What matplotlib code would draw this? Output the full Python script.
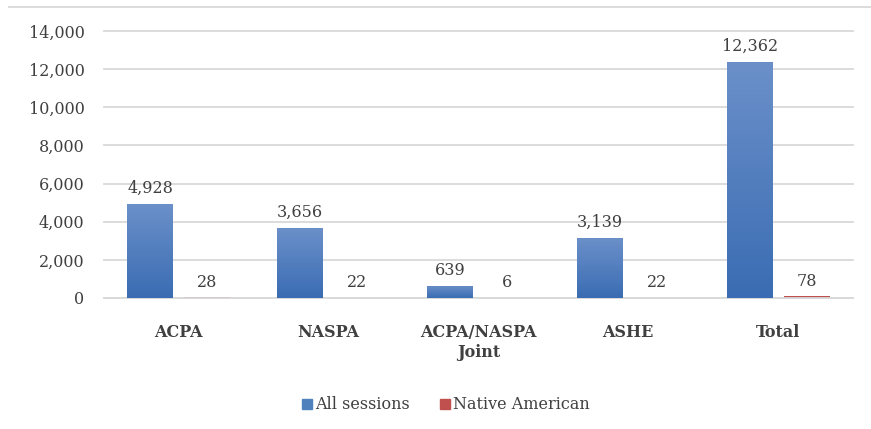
import numpy as np
import matplotlib
matplotlib.use("Agg")
import matplotlib.pyplot as plt
from matplotlib.lines import Line2D
from matplotlib.colors import LinearSegmentedColormap
from matplotlib.ticker import FuncFormatter

# Datos
categorias = ["ACPA", "NASPA", "ACPA/NASPA\nJoint", "ASHE", "Total"]
todas = [4928, 3656, 639, 3139, 12362]
nativos = [28, 22, 6, 22, 78]

color_txt = "#404040"
azul_arriba = "#6b90c9"
azul_abajo = "#3a6cb3"
rojo = "#c0504d"

plt.rcParams["font.family"] = ["DejaVu Serif"]
plt.rcParams["font.size"] = 11.5

fig = plt.figure(figsize=(8.71, 4.29), dpi=100)
ax = fig.add_axes([0.1194, 0.3054, 0.8599, 0.6224])

x = np.arange(len(categorias))
ancho = 0.307
desp = 0.19

barras_a = ax.bar(x - desp, todas, ancho, color=azul_abajo, label="All sessions", zorder=2)
barras_n = ax.bar(x + desp, nativos, ancho, color=rojo, label="Native American", zorder=2)

# degradado vertical en las barras azules
cmap = LinearSegmentedColormap.from_list("grad", [azul_abajo, azul_arriba])
grad = np.linspace(0, 1, 256).reshape(-1, 1)
for b in barras_a:
    bx, by = b.get_x(), b.get_y()
    w, h = b.get_width(), b.get_height()
    im = ax.imshow(grad, extent=[bx, bx + w, by, by + h], origin="lower",
                   cmap=cmap, aspect="auto", zorder=3)
    im.set_clip_path(b)

for b, v in zip(barras_a, todas):
    ax.annotate(f"{v:,}", (b.get_x() + b.get_width() / 2, v), xytext=(0, 5),
                textcoords="offset points", ha="center", va="bottom", color=color_txt)
for b, v in zip(barras_n, nativos):
    ax.annotate(f"{v:,}", (b.get_x() + b.get_width() / 2, v), xytext=(0, 5),
                textcoords="offset points", ha="center", va="bottom", color=color_txt)

ax.set_xlim(-0.5, len(categorias) - 0.5)
ax.set_ylim(0, 14000)
ax.set_yticks(range(0, 14001, 2000))
ax.yaxis.set_major_formatter(FuncFormatter(lambda v, p: f"{int(v):,}"))
ax.set_xticks(x)
ax.set_xticklabels(categorias, fontweight="bold", color=color_txt, linespacing=1.2)
ax.tick_params(axis="x", length=0, pad=19)
ax.tick_params(axis="y", length=0, pad=14, labelcolor=color_txt)

ax.grid(axis="y", color="#d9d9d9", linewidth=1.3, zorder=0)
ax.set_axisbelow(True)
for linea in ax.get_ygridlines():
    linea.set_clip_on(False)
for s in ["top", "right", "left"]:
    ax.spines[s].set_visible(False)
ax.spines["bottom"].set_color("#d9d9d9")
ax.spines["bottom"].set_linewidth(1.3)

handles = [
    Line2D([], [], marker="s", linestyle="none", markersize=7,
           markerfacecolor="#4f81bd", markeredgecolor="#4f81bd"),
    Line2D([], [], marker="s", linestyle="none", markersize=7,
           markerfacecolor=rojo, markeredgecolor=rojo),
]
fig.legend(handles, ["All sessions", "Native American"], loc="center",
           bbox_to_anchor=(0.511, 0.056), ncol=2, frameon=False,
           handletextpad=0.1, columnspacing=1.8, handlelength=0.8,
           labelcolor=color_txt)

# borde superior del área del gráfico
fig.add_artist(Line2D([9 / 871, 1.0], [1 - 7 / 429, 1 - 7 / 429],
                      color="#d9d9d9", linewidth=1.3, transform=fig.transFigure))

fig.savefig("out.png", dpi=100)
